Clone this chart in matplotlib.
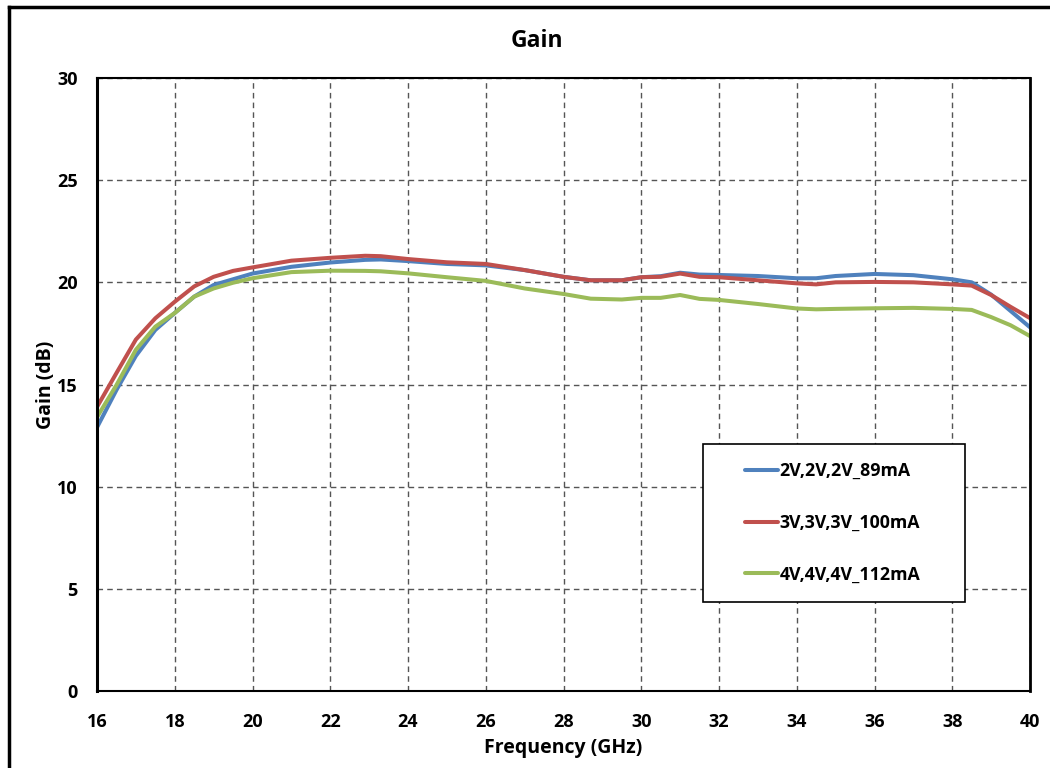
import matplotlib
matplotlib.use("Agg")
import matplotlib.pyplot as plt
from matplotlib.lines import Line2D
from matplotlib.patches import Rectangle

plt.rcParams['font.family'] = ['Open Sans', 'DejaVu Sans']
plt.rcParams['font.weight'] = 'bold'

freq = [16, 16.5, 17, 17.5, 18, 18.5, 19, 19.5, 20, 21, 22, 22.9, 23.3, 24, 25, 26, 27, 28, 28.7, 29.5,
        30, 30.5, 31, 31.5, 32, 33, 34, 34.5, 35, 36, 37, 38, 38.5, 39, 39.5, 40]
gain_2v = [12.9, 14.73, 16.4, 17.67, 18.5, 19.3, 19.87, 20.15, 20.43, 20.76, 20.97, 21.1, 21.12, 21.04,
           20.9, 20.83, 20.6, 20.27, 20.1, 20.1, 20.25, 20.3, 20.47, 20.38, 20.36, 20.31, 20.2, 20.2,
           20.31, 20.41, 20.35, 20.15, 20.0, 19.4, 18.6, 17.8]
gain_3v = [13.9, 15.56, 17.2, 18.24, 19.05, 19.8, 20.27, 20.56, 20.73, 21.06, 21.2, 21.3, 21.28, 21.14,
           20.98, 20.9, 20.6, 20.27, 20.1, 20.1, 20.25, 20.27, 20.43, 20.27, 20.25, 20.1, 19.95, 19.9,
           20.0, 20.02, 20.0, 19.9, 19.84, 19.38, 18.8, 18.25]
gain_4v = [13.4, 14.97, 16.7, 17.83, 18.5, 19.3, 19.7, 19.98, 20.2, 20.5, 20.57, 20.56, 20.54, 20.44,
           20.25, 20.07, 19.7, 19.43, 19.2, 19.16, 19.24, 19.24, 19.38, 19.19, 19.14, 18.94, 18.72, 18.68,
           18.7, 18.73, 18.75, 18.7, 18.65, 18.3, 17.9, 17.37]
labels = ['2V,2V,2V_89mA', '3V,3V,3V_100mA', '4V,4V,4V_112mA']
colors = ['#4F81BD', '#C0504D', '#9BBB59']

xticks = list(range(16, 41, 2))
yticks = list(range(0, 31, 5))

W, H = 1050, 768
fig = plt.figure(figsize=(10.5, 7.68), dpi=100)
ax = fig.add_axes([97/W, 1-691/H, 933/W, 613/H])

for g, lab, c in zip([gain_2v, gain_3v, gain_4v], labels, colors):
    ax.plot(freq, g, color=c, lw=2.9, label=lab, solid_capstyle='round', solid_joinstyle='round')

ax.set_xlim(16, 40)
ax.set_ylim(0, 30)
ax.set_xticks(xticks)
ax.set_yticks(yticks)
ax.tick_params(length=0, labelsize=13)
ax.tick_params(axis='x', pad=16)
ax.tick_params(axis='y', pad=14)
for t in ax.get_xticklabels() + ax.get_yticklabels():
    t.set_fontweight('bold')
ax.grid(True, color='#555555', linestyle=(0, (4, 3)), lw=1)
for s in ax.spines.values():
    s.set_linewidth(1.5)
    s.set_color('black')
ax.spines['left'].set_linewidth(2.2)
ax.spines['right'].set_linewidth(2.0)

fig.text(537/W, 1-41/H, 'Gain', fontsize=16.5, fontweight='bold', ha='center', va='center')
ax.set_xlabel('Frequency (GHz)', fontsize=14, fontweight='bold')
ax.set_ylabel('Gain (dB)', fontsize=14, fontweight='bold')
ax.xaxis.set_label_coords(0.5, (691-738)/613)
ax.yaxis.set_label_coords((56-97)/933, 0.5)

# legend frame
ax.add_patch(Rectangle(((703-97)/933, (691-602)/613), 262/933, 158/613, transform=ax.transAxes,
                       facecolor='white', edgecolor='black', lw=1.2, zorder=4))
leg = ax.legend(loc='upper left', bbox_to_anchor=((745-97)/933, (691-462)/613),
                prop={'weight': 'bold', 'size': 12.8}, frameon=False,
                labelspacing=1.9, borderpad=0, handlelength=1.85, handletextpad=0.1,
                borderaxespad=0)
leg.set_zorder(5)

# outer chart border
fig.add_artist(Line2D([9/W, 9/W], [0, 1-7/H], color='black', lw=2.5, transform=fig.transFigure))
fig.add_artist(Line2D([9/W, 1], [1-7/H, 1-7/H], color='black', lw=2.5, transform=fig.transFigure))

fig.savefig('out.png', dpi=100)
